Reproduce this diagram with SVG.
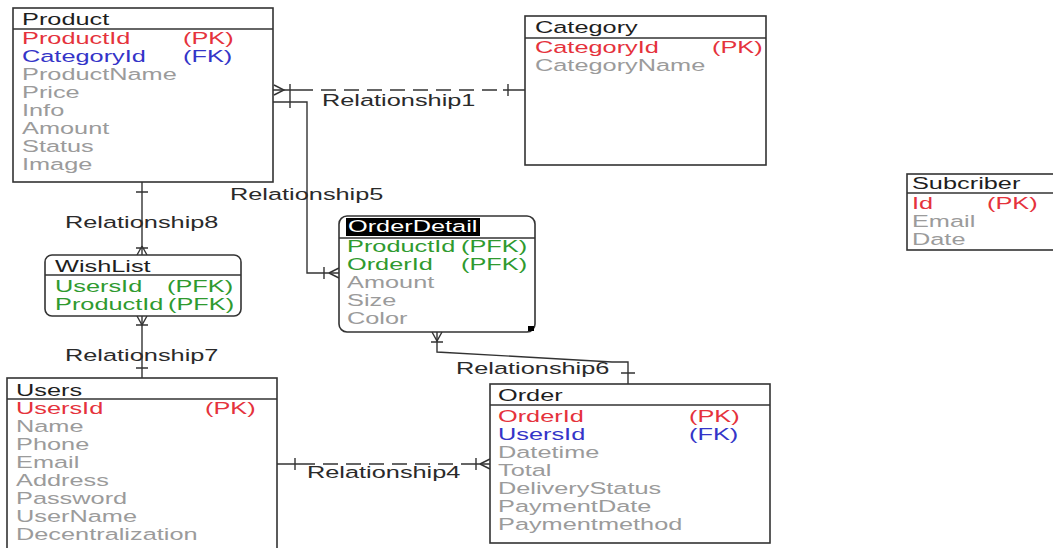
<svg xmlns="http://www.w3.org/2000/svg" width="1053" height="548" viewBox="0 0 1053 548">
<style>
text{font-family:"Liberation Sans",Arial,sans-serif;font-size:17px;transform-box:fill-box;transform-origin:0 0;transform:scaleX(1.49)}
.ti{fill:#1e1e1e}
.at{fill:#9b9b9b}
.pk{fill:#e5323c}
.fk{fill:#3434c8}
.pf{fill:#2f9a2f}
.lb{fill:#2a2a2a}
.box{fill:#fff;stroke:#333;stroke-width:1.6}
.hl{stroke:#333;stroke-width:1.6}
.cn{fill:none;stroke:#333;stroke-width:1.4}
.ds{stroke-dasharray:15 8}
</style>
<rect width="1053" height="548" fill="#fff"/>
<g id="connectors">
<path class="cn" d="M273,90 H298 M503,90 H525"/>
<path class="cn ds" d="M298,90 H503"/>
<path class="cn" d="M274,85 L284,90 L274,95 M290,84 V96 M508,84 V96"/>
<text class="lb" x="322" y="106">Relationship1</text>
<path class="cn" d="M273,102 H307 V273 H339"/>
<path class="cn" d="M290,96 V108 M329,273 L339,268 M329,273 L339,278 M324,267 V279"/>
<text class="lb" x="230" y="200">Relationship5</text>
<path class="cn" d="M142,182 V255"/>
<path class="cn" d="M136,192 H148 M142,246 L137,255 M142,246 L147,255 M136,248 H148"/>
<text class="lb" x="65" y="228">Relationship8</text>
<path class="cn" d="M142,316 V378"/>
<path class="cn" d="M137,316 L142,325 L147,316 M136,325 H148 M136,368 H148"/>
<text class="lb" x="65" y="361">Relationship7</text>
<path class="cn" d="M437,332 V352 L612,362 H628 V384"/>
<path class="cn" d="M432,332 L437,341 L442,332 M431,342 H443 M621,373 H635"/>
<text class="lb" x="456" y="374">Relationship6</text>
<path class="cn" d="M277,464 H300 M470,464 H490"/>
<path class="cn ds" d="M300,464 H470"/>
<path class="cn" d="M295,458 V470 M480,464 L490,459 M480,464 L490,469 M476,458 V470"/>
<text class="lb" x="307" y="478">Relationship4</text>
</g>
<g id="product">
<rect class="box" x="13" y="8" width="260" height="174"/>
<line class="hl" x1="13" y1="29" x2="273" y2="29"/>
<text class="ti" x="22" y="25">Product</text>
<text class="pk" x="22" y="44">ProductId</text><text class="pk" x="183" y="44">(PK)</text>
<text class="fk" x="22" y="62">CategoryId</text><text class="fk" x="183" y="62">(FK)</text>
<text class="at" x="22" y="80">ProductName</text>
<text class="at" x="22" y="98">Price</text>
<text class="at" x="22" y="116">Info</text>
<text class="at" x="22" y="134">Amount</text>
<text class="at" x="22" y="152">Status</text>
<text class="at" x="22" y="170">Image</text>
</g>
<g id="category">
<rect class="box" x="525" y="16" width="241" height="149"/>
<line class="hl" x1="525" y1="38" x2="766" y2="38"/>
<text class="ti" x="535" y="33">Category</text>
<text class="pk" x="535" y="53">CategoryId</text><text class="pk" x="712" y="53">(PK)</text>
<text class="at" x="535" y="71">CategoryName</text>
</g>
<g id="subcriber">
<rect class="box" x="907" y="174" width="160" height="76"/>
<line class="hl" x1="907" y1="193" x2="1060" y2="193"/>
<text class="ti" x="912" y="189">Subcriber</text>
<text class="pk" x="912" y="209">Id</text><text class="pk" x="987" y="209">(PK)</text>
<text class="at" x="912" y="227">Email</text>
<text class="at" x="912" y="245">Date</text>
</g>
<g id="wishlist">
<rect class="box" x="45" y="255" width="196" height="61" rx="7"/>
<line class="hl" x1="45" y1="275" x2="241" y2="275"/>
<text class="ti" x="55" y="272">WishList</text>
<text class="pf" x="55" y="292">UsersId</text><text class="pf" x="167" y="292">(PFK)</text>
<text class="pf" x="55" y="310">ProductId</text><text class="pf" x="168" y="310">(PFK)</text>
</g>
<g id="orderdetail">
<rect class="box" x="339" y="216" width="196" height="116" rx="8"/>
<line class="hl" x1="339" y1="238" x2="535" y2="238"/>
<rect x="346" y="218" width="134" height="18" fill="#000"/>
<text x="348" y="232" fill="#fff">OrderDetail</text>
<text class="pf" x="347" y="252">ProductId</text><text class="pf" x="461" y="252">(PFK)</text>
<text class="pf" x="347" y="270">OrderId</text><text class="pf" x="461" y="270">(PFK)</text>
<text class="at" x="347" y="288">Amount</text>
<text class="at" x="347" y="306">Size</text>
<text class="at" x="347" y="324">Color</text>
<rect x="528" y="326" width="6" height="5" fill="#000"/>
</g>
<g id="users">
<rect class="box" x="7" y="378" width="270" height="180"/>
<line class="hl" x1="7" y1="399" x2="277" y2="399"/>
<text class="ti" x="16" y="396">Users</text>
<text class="pk" x="16" y="414">UsersId</text><text class="pk" x="205" y="414">(PK)</text>
<text class="at" x="16" y="432">Name</text>
<text class="at" x="16" y="450">Phone</text>
<text class="at" x="16" y="468">Email</text>
<text class="at" x="16" y="486">Address</text>
<text class="at" x="16" y="504">Password</text>
<text class="at" x="16" y="522">UserName</text>
<text class="at" x="16" y="540">Decentralization</text>
</g>
<g id="order">
<rect class="box" x="490" y="384" width="280" height="159"/>
<line class="hl" x1="490" y1="405" x2="770" y2="405"/>
<text class="ti" x="498" y="401">Order</text>
<text class="pk" x="498" y="422">OrderId</text><text class="pk" x="689" y="422">(PK)</text>
<text class="fk" x="498" y="440">UsersId</text><text class="fk" x="689" y="440">(FK)</text>
<text class="at" x="498" y="458">Datetime</text>
<text class="at" x="498" y="476">Total</text>
<text class="at" x="498" y="494">DeliveryStatus</text>
<text class="at" x="498" y="512">PaymentDate</text>
<text class="at" x="498" y="530">Paymentmethod</text>
</g>
</svg>
